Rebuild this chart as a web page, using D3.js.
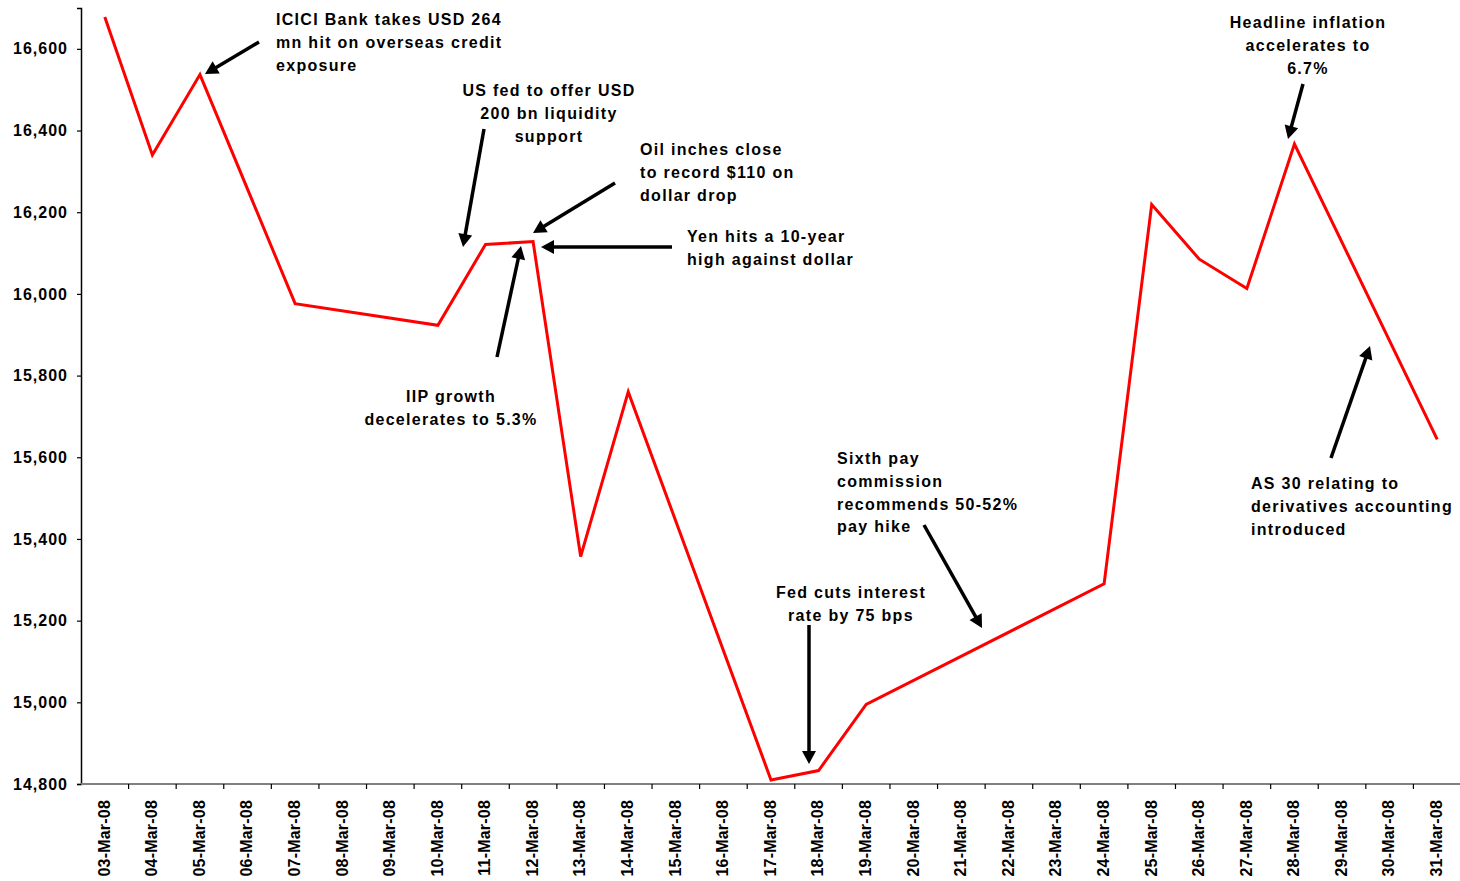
<!DOCTYPE html>
<html>
<head>
<meta charset="utf-8">
<script src="https://cdn.jsdelivr.net/npm/d3@7"></script>
<style>
  html, body { margin: 0; padding: 0; background: #fff; }
  svg { display: block; }
  text { font-family: "Liberation Sans", Arial, sans-serif; font-weight: bold; fill: #000; }
</style>
</head>
<body>
<svg id="chart" width="1460" height="881"></svg>
<script>
// ---- Data ----
const dates = ["03-Mar-08","04-Mar-08","05-Mar-08","06-Mar-08","07-Mar-08","08-Mar-08","09-Mar-08",
  "10-Mar-08","11-Mar-08","12-Mar-08","13-Mar-08","14-Mar-08","15-Mar-08","16-Mar-08","17-Mar-08",
  "18-Mar-08","19-Mar-08","20-Mar-08","21-Mar-08","22-Mar-08","23-Mar-08","24-Mar-08","25-Mar-08",
  "26-Mar-08","27-Mar-08","28-Mar-08","29-Mar-08","30-Mar-08","31-Mar-08"];
// Sensex close (null = market closed)
const sensex = [16678, 16340, 16537, null, 15976, null, null,
  15923, 16121, 16128, 15357, 15760, null, null, 14810,
  14833, 14995, null, null, null, null, 15290, 16219,
  16085, 16013, 16367, null, null, 15644];
const yTicks = [14800, 15000, 15200, 15400, 15600, 15800, 16000, 16200, 16400, 16600];
const yDomain = [14800, 16700];

// ---- Annotations (text lines, alignment, layout in pixels) ----
const annotations = [
  {lines: ["ICICI Bank takes USD 264", "mn hit on overseas credit", "exposure"], anchor: "start", x: 276, y: 25, arrow: [259, 42, 205, 74]},
  {lines: ["US fed to offer USD", "200 bn liquidity", "support"], anchor: "middle", x: 549, y: 96, arrow: [484, 129, 463, 247]},
  {lines: ["Oil inches close", "to record $110 on", "dollar drop"], anchor: "start", x: 640, y: 155, arrow: [615, 183, 533, 233]},
  {lines: ["Yen hits a 10-year", "high against dollar"], anchor: "start", x: 687, y: 242, arrow: [672, 247, 541, 247]},
  {lines: ["IIP growth", "decelerates to 5.3%"], anchor: "middle", x: 451, y: 402, arrow: [497, 357, 521, 246]},
  {lines: ["Fed cuts interest", "rate by 75 bps"], anchor: "middle", x: 851, y: 598, arrow: [809, 625, 809, 764]},
  {lines: ["Sixth pay", "commission", "recommends 50-52%", "pay hike"], anchor: "start", x: 837, y: 464, arrow: [924, 525, 982, 628]},
  {lines: ["Headline inflation", "accelerates to", "6.7%"], anchor: "middle", x: 1308, y: 28, arrow: [1303, 84, 1288, 139]},
  {lines: ["AS 30 relating to", "derivatives accounting", "introduced"], anchor: "start", x: 1251, y: 489, arrow: [1331, 458, 1370, 346]}
];

// ---- Layout ----
const plot = {left: 81, right: 1461, top: 8, bottom: 784};
const svg = d3.select("#chart");

const x = d3.scaleBand().domain(dates).range([plot.left, plot.right]).padding(0);
const y = d3.scaleLinear().domain(yDomain).range([plot.bottom, plot.top]);

// Y axis
const yAxis = d3.axisLeft(y).tickValues(yTicks).tickFormat(d3.format(",")).tickSize(4).tickPadding(9);
const gy = svg.append("g").attr("transform", `translate(${plot.left},0)`).call(yAxis);
gy.select(".domain").attr("stroke", "#000").attr("stroke-width", 1.5);
gy.selectAll(".tick line").attr("stroke", "#000").attr("stroke-width", 1.2);
gy.selectAll(".tick text").attr("font-size", 16).attr("letter-spacing", "1px")
  .style("font-family", '"Liberation Sans", Arial, sans-serif').style("font-weight", "bold").attr("fill", "#000");

// X axis line
svg.append("line").attr("x1", plot.left).attr("x2", plot.right).attr("y1", plot.bottom).attr("y2", plot.bottom)
  .attr("stroke", "#808080").attr("stroke-width", 2);
// X ticks at category boundaries
const boundaries = dates.map(d => x(d)).concat([x(dates[dates.length - 1]) + x.bandwidth()]);
svg.append("g").selectAll("line").data(boundaries.slice(1)).join("line")
  .attr("x1", d => d).attr("x2", d => d).attr("y1", plot.bottom).attr("y2", plot.bottom + 5)
  .attr("stroke", "#000").attr("stroke-width", 1.2);
// X labels
svg.append("g").selectAll("text").data(dates).join("text")
  .attr("transform", d => `translate(${x(d) + x.bandwidth() / 2},${plot.bottom + 16}) rotate(-90)`)
  .attr("text-anchor", "end").attr("dy", "0.3em")
  .attr("font-size", 16).attr("letter-spacing", "0.2px")
  .text(d => d);

// Line
const pts = dates.map((d, i) => ({d, v: sensex[i]})).filter(p => p.v !== null);
const line = d3.line().x(p => x(p.d) + x.bandwidth() / 2).y(p => y(p.v));
svg.append("path").datum(pts).attr("d", line)
  .attr("fill", "none").attr("stroke", "#ff0000").attr("stroke-width", 3).attr("stroke-linejoin", "miter");

// Annotations
const ga = svg.append("g");
annotations.forEach(a => {
  const t = ga.append("text").attr("x", a.x).attr("y", a.y).attr("text-anchor", a.anchor)
    .attr("font-size", 16).attr("letter-spacing", "1.3px");
  a.lines.forEach((l, i) => {
    t.append("tspan").attr("x", a.x).attr("y", a.y + i * 22.8).text(l);
  });
  const [x1, y1, x2, y2] = a.arrow;
  const dx = x2 - x1, dy = y2 - y1, len = Math.hypot(dx, dy);
  const ux = dx / len, uy = dy / len;
  const headL = 13, headW = 7;
  const bx = x2 - ux * headL, by = y2 - uy * headL;
  ga.append("line").attr("x1", x1).attr("y1", y1).attr("x2", bx + ux * 2).attr("y2", by + uy * 2)
    .attr("stroke", "#000").attr("stroke-width", 3.5);
  ga.append("path")
    .attr("d", `M${x2},${y2}L${bx - uy * headW},${by + ux * headW}L${bx + uy * headW},${by - ux * headW}Z`)
    .attr("fill", "#000");
});
</script>
</body>
</html>
